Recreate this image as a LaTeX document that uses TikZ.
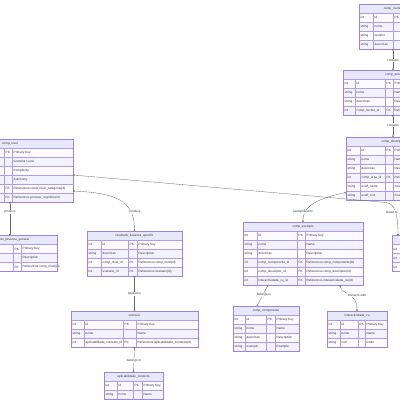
\documentclass[tikz,border=0pt]{standalone}
\usepackage{fontspec}
\setmainfont{Liberation Sans}
\usetikzlibrary{arrows.meta}
\definecolor{hdr}{RGB}{232,232,252}
\definecolor{rowa}{RGB}{250,250,255}
\definecolor{rowb}{RGB}{242,242,252}
\definecolor{bord}{RGB}{160,130,225}
\definecolor{txt}{RGB}{51,51,51}
\definecolor{edgec}{RGB}{100,100,100}
\tikzset{
  tinyfont/.style={font=\fontsize{3.1}{3.7}\selectfont},
  cellt/.style={tinyfont, inner sep=0pt, anchor=west, text=txt},
  hdrt/.style={tinyfont, inner sep=0pt, text=txt},
  tblbox/.style={draw=bord, line width=0.35pt, inner sep=0pt, outer sep=0pt},
  gridln/.style={draw=bord!80, line width=0.2pt},
  relln/.style={draw=edgec, line width=0.3pt, >={Circle[open,length=1.8pt,width=1.8pt]}, <->},
  lbltxt/.style={tinyfont, fill=white, inner sep=0.5pt, text=txt},
}
% #1 name #2 xl #3 ytop #4 c1 #5 c2 #6 c3 #7 xr #8 header #9 rows
\newcommand{\ertab}[9]{%
  \fill[hdr] (#2,#3) rectangle (#7,#3+9);
  \node[hdrt] (#1-title) at ({(#2+#7)/2},#3+4.5) {#8};
  \foreach \ty/\nm/\ky/\ds [count=\i] in {#9}{%
    \pgfmathsetmacro\ya{#3+9*\i}%
    \ifodd\i\relax
      \fill[rowa] (#2,\ya) rectangle (#7,\ya+9);
    \else
      \fill[rowb] (#2,\ya) rectangle (#7,\ya+9);
    \fi
    \draw[gridln] (#2,\ya) -- (#7,\ya);
    \node[cellt] (#1-r\i-a) at (#2+1.5,\ya+4.5) {\ty};
    \node[cellt] (#1-r\i-b) at (#4+1.5,\ya+4.5) {\nm};
    \node[cellt] (#1-r\i-c) at (#5+1.5,\ya+4.5) {\ky};
    \node[cellt] (#1-r\i-d) at (#6+1.5,\ya+4.5) {\ds};
    \xdef\ernrows{\i}%
  }
  \pgfmathsetmacro\yend{#3+9+9*\ernrows}
  \draw[gridln] (#4,#3+9) -- (#4,\yend) (#5,#3+9) -- (#5,\yend) (#6,#3+9) -- (#6,\yend);
  \pgfmathsetmacro\tw{#7-#2}\pgfmathsetmacro\th{\yend-#3}
  \node[tblbox, anchor=north west, minimum width=\tw pt, minimum height=\th pt] (#1) at (#2,#3) {};
}
\begin{document}
\begin{tikzpicture}[x=1pt,y=-1pt]
\useasboundingbox[fill=white] (0,0) rectangle (400,400);

\ertab{nucleo}{359}{4}{373}{393}{401}{427}{comp\_nucleo}{int/id/PK/Primary Key, string/nome//Name, string/resumo//Summary, string/descricao//Description}
\ertab{area}{343}{70}{355}{385}{393}{443}{comp\_area}{int/id/PK/Primary Key, string/nome//Name, string/descricao//Description, int/comp\_nucleo\_id/FK/References comp\_nucleo(id)}
\ertab{descr}{346}{137}{360}{385}{393}{440}{comp\_descriptor}{int/id/PK/Primary Key, string/nome//Name, string/descricao//Description, int/comp\_area\_id/FK/References comp\_area(id), string/scaff\_name//Scaffold name, string/scaff\_cod//Scaffold code}
\ertab{nivel}{-53}{139}{-38}{4}{12}{73}{comp\_nivel}{int/id/PK/Primary Key, string/granular\_level//Granular Level, string/complexity//Complexity, string/autonomy//Autonomy, int/comp\_nivel\_categoria\_id/FK/References comp\_nivel\_categoria(id), int/proceso\_cognitivo\_id/FK/References proceso\_cognitivo(id)}
\ertab{gen}{-37}{235.5}{-25}{13}{21}{57}{resultado\_llevanza\_general}{int/id/PK/Primary Key, string/descricao//Description, int/comp\_nivel\_id/FK/References comp\_nivel(id)}
\ertab{espec}{87}{231}{101}{128}{137}{182}{resultado\_llevanza\_specific}{int/id/PK/Primary Key, string/descricao//Description, int/comp\_nivel\_id/FK/References comp\_nivel(id), int/scenario\_id/FK/References scenario(id)}
\ertab{scen}{71}{311}{84}{123}{136}{198}{scenario}{int/id/PK/Primary Key, string/nome//Name, int/aplicabilidade\_contexto\_id/FK/References aplicabilidade\_contexto(id)}
\ertab{aplic}{104}{372}{117}{133}{142}{163}{aplicabilidade\_contexto}{int/id/PK/Primary Key, string/nome//Name}
\ertab{exemplo}{243}{222}{257}{297}{305}{363}{comp\_exemplo}{int/id/PK/Primary Key, string/nome//Name, string/descricao//Description, int/comp\_componente\_id/FK/References comp\_componente(id), int/comp\_descriptor\_id/FK/References comp\_descriptor(id), int/interactividade\_cu\_id/FK/References interactividade\_cu(id)}
\ertab{comp}{233}{306}{245}{266}{275}{299}{comp\_componente}{int/id/PK/Primary Key, string/nome//Name, string/descricao//Description, string/exemplo//Example}
\ertab{inter}{327}{311}{340}{358}{365}{387}{interactividade\_cu}{int/id/PK/Primary Key, string/nome//Name, string/cod//Code}
\ertab{rtab}{392}{235.5}{405}{430}{438}{460}{}{int///, int///, int///}

% connectors
\draw[relln] (nucleo.south) -- (area.north);
\draw[relln] (area.south) -- (descr.north);
\draw[relln] ([yshift=-4.5pt]nivel.east) -- (386,202.5) .. controls (394,203.3) and (398,212) .. ([xshift=-28pt]rtab.north);
\draw[relln] ([yshift=-20.5pt]nivel.east) .. controls (115,193) and (134.5,200) .. (espec.north);
\draw[relln] (nivel.south) -- (gen.north);
\draw[relln] ([yshift=-24pt]descr.west) .. controls (320,198) and (303,205) .. (exemplo.north);
\draw[relln] (espec.south) -- (scen.north);
\draw[relln] (scen.south) -- (aplic.north);
\draw[relln] ([xshift=-35pt]exemplo.south) -- ([xshift=-9pt]comp.north);
\draw[relln] ([xshift=37pt]exemplo.south) .. controls (342,295) and (357,292) .. (inter.north);

% labels
\node[lbltxt] (L1) at (393,60.5) {contains};
\node[lbltxt] (L2) at (393,125) {contains};
\node[lbltxt] (L3) at (392,212) {linked to};
\node[lbltxt] (L4) at (135,212) {produce};
\node[lbltxt] (L5) at (10,212) {produce};
\node[lbltxt] (L6) at (303,212) {exemplified by};
\node[lbltxt] (L7) at (134.5,294) {applied in};
\node[lbltxt] (L8) at (134,361) {belongs to};
\node[lbltxt] (L9) at (264,295) {belongs to};
\node[lbltxt] (L10) at (357,295) {interacts with};
\end{tikzpicture}
\end{document}
